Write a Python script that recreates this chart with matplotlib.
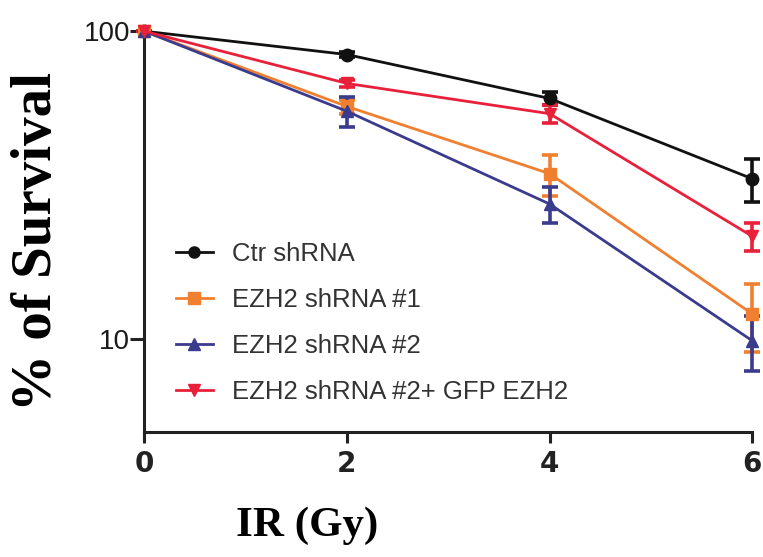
import matplotlib
matplotlib.use("Agg")
import matplotlib.pyplot as plt
from matplotlib.lines import Line2D
import numpy as np

dose = [0, 2, 4, 6]
labels = ["Ctr shRNA", "EZH2 shRNA #1", "EZH2 shRNA #2", "EZH2 shRNA #2+ GFP EZH2"]
ctr = [100, 84, 60.5, 33.2]
ctr_err = [0, 1.5, 3.0, 5.2]
sh1 = [100, 57, 34.5, 12.1]
sh1_err = [0, 3.0, 5.3, 3.0]
sh2 = [100, 55, 27.5, 9.9]
sh2_err = [0, 6.0, 3.7, 2.0]
rescue = [100, 67.7, 54, 21.6]
rescue_err = [0, 2.0, 3.8, 2.3]
yticks = [10, 100]
xticks = [0, 2, 4, 6]

colors = ["#111111", "#F08030", "#3B3B8E", "#E8203A"]
markers = ["o", "s", "^", "v"]
series = [ctr, sh1, sh2, rescue]
errs = [ctr_err, sh1_err, sh2_err, rescue_err]

fig = plt.figure(figsize=(7.63, 5.57), dpi=100)
ax = fig.add_axes([0.189, 0.224, 0.797, 0.720])

handles = []
for vals, err, c, m, lab in zip(series, errs, colors, markers, labels):
    ax.errorbar(dose, vals, yerr=err, color=c, marker=m, markersize=9,
                linewidth=2.0, elinewidth=2.6, capsize=6, capthick=2.6,
                clip_on=False, zorder=3)
    handles.append(Line2D([], [], color=c, marker=m, markersize=8,
                          linewidth=2.0, label=lab))

ax.set_yscale("log")
ax.set_ylim(5, 100)
ax.set_xlim(0, 6)
ax.set_yticks(yticks)
ax.set_yticklabels([str(t) for t in yticks])
ax.yaxis.set_minor_locator(matplotlib.ticker.NullLocator())
ax.set_xticks(xticks)
ax.set_xticklabels([str(t) for t in xticks])

for s in ["top", "right"]:
    ax.spines[s].set_visible(False)
for s in ["left", "bottom"]:
    ax.spines[s].set_linewidth(2.2)
    ax.spines[s].set_color("#222222")

ax.tick_params(axis="both", width=2.2, color="#222222")
ax.tick_params(axis="y", labelsize=20, pad=0.3, length=10)
ax.tick_params(axis="x", labelsize=20, pad=5, length=8)
for t in ax.get_xticklabels():
    t.set_fontweight("bold")
    t.set_color("#222222")
for t in ax.get_yticklabels():
    t.set_fontfamily("Liberation Sans")
    t.set_color("#1a1a1a")

ax.set_xlabel("IR (Gy)", fontfamily="Liberation Serif", fontweight="bold",
              fontsize=31)
ax.xaxis.set_label_coords(0.268, -0.185)
ax.set_ylabel("% of Survival", fontfamily="Liberation Serif", fontweight="bold",
              fontsize=41)
ax.yaxis.set_label_coords(-0.133, 0.475)

leg = ax.legend(handles=handles, loc="lower left", bbox_to_anchor=(0.035, 0.045),
                frameon=False, fontsize=18.5, handlelength=1.45, labelspacing=0.86,
                handletextpad=0.75, borderaxespad=0.0)
for t in leg.get_texts():
    t.set_color("#333333")
    t.set_fontfamily("Liberation Sans")

fig.savefig("out.png", dpi=100)
